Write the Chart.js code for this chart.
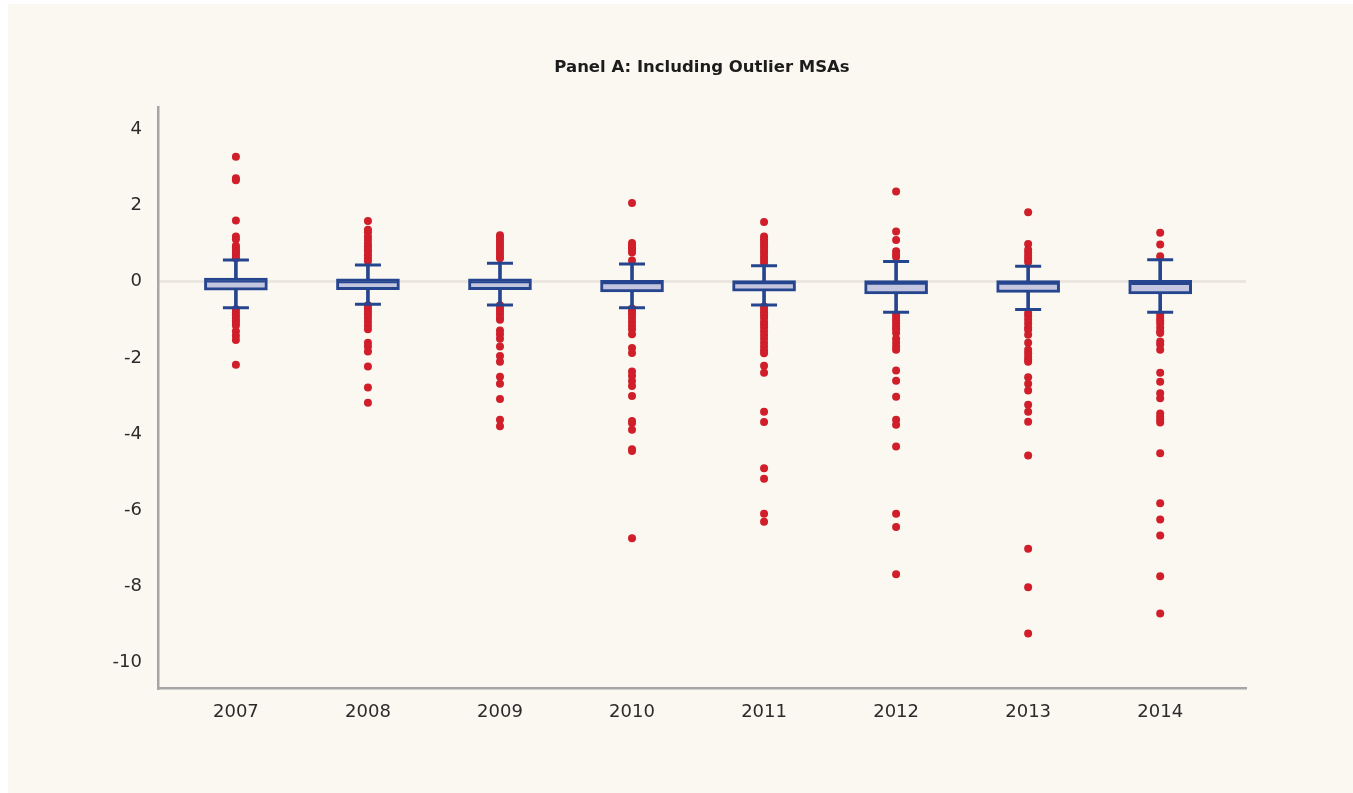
<!DOCTYPE html>
<html>
<head>
<meta charset="utf-8">
<title>Panel A: Including Outlier MSAs</title>
<script src="https://cdn.jsdelivr.net/npm/chart.js@4/dist/chart.umd.min.js"></script>
<style>
  html, body { margin: 0; padding: 0; background: #ffffff; }
  #wrap { position: relative; width: 1353px; height: 793px; overflow: hidden; }
  #panel { position: absolute; left: 8px; top: 4px; right: 0; bottom: 0; background: #fbf8f1; }
  #chart { position: absolute; left: 0; top: 0; }
</style>
</head>
<body>
<div id="wrap">
  <div id="panel"></div>
  <canvas id="chart" width="1353" height="793"></canvas>
</div>
<script>
// Years on the horizontal axis
const years = [2007, 2008, 2009, 2010, 2011, 2012, 2013, 2014];
const yTicks = [-10, -8, -6, -4, -2, 0, 2, 4];

// Box-plot summaries per year
const q1 = [-0.22, -0.21, -0.21, -0.27, -0.25, -0.32, -0.28, -0.32];
const q3 = [0.10, 0.08, 0.08, 0.04, 0.03, 0.03, 0.03, 0.04];
const medians = [0.01, -0.01, -0.01, -0.04, -0.04, -0.05, -0.05, -0.06];
const whiskerHigh = [0.57, 0.44, 0.49, 0.47, 0.42, 0.53, 0.41, 0.58];
const whiskerLow = [-0.68, -0.59, -0.61, -0.68, -0.61, -0.80, -0.73, -0.80];

// Outlier MSAs per year
const outliers2007 = [3.29, 2.72, 2.67, 1.61, 1.19, 1.12, 0.95, 0.9, 0.84, 0.79, 0.74, 0.68, 0.62,
  -0.72, -0.8, -0.88, -0.95, -1.02, -1.08, -1.15, -1.3, -1.42, -1.53, -2.18];
const outliers2008 = [1.6, 1.37, 1.3, 1.19, 1.1, 1.0, 0.93, 0.85, 0.78, 0.7, 0.62, 0.54,
  -0.62, -0.7, -0.78, -0.86, -0.95, -1.05, -1.15, -1.25, -1.6, -1.7, -1.83, -2.23, -2.78, -3.18];
const outliers2009 = [1.22, 1.15, 1.08, 1.0, 0.92, 0.84, 0.76, 0.68, 0.62,
  -0.62, -0.7, -0.78, -0.86, -0.95, -1.0, -1.28, -1.38, -1.5, -1.7, -1.95, -2.1, -2.5, -2.68, -3.08, -3.63, -3.8];
const outliers2010 = [2.07, 1.02, 0.96, 0.9, 0.84, 0.77, 0.56,
  -0.7, -0.78, -0.86, -0.95, -1.05, -1.15, -1.25, -1.38, -1.74, -1.87, -2.36, -2.47, -2.61, -2.74, -3.0,
  -3.66, -3.71, -3.89, -4.4, -4.45, -6.74];
const outliers2011 = [1.57, 1.19, 1.12, 1.05, 0.98, 0.9, 0.82, 0.74, 0.66, 0.58, 0.5,
  -0.65, -0.72, -0.8, -0.88, -0.95, -1.05, -1.12, -1.2, -1.3, -1.4, -1.5, -1.6, -1.7, -1.8, -1.88,
  -2.21, -2.39, -3.42, -3.69, -4.9, -5.18, -6.1, -6.31];
const outliers2012 = [2.37, 1.32, 1.1, 0.8, 0.72, 0.65,
  -0.87, -0.95, -1.02, -1.1, -1.18, -1.25, -1.35, -1.5, -1.6, -1.7, -1.79,
  -2.33, -2.6, -3.02, -3.63, -3.76, -4.33, -6.1, -6.45, -7.69];
const outliers2013 = [1.83, 0.99, 0.84, 0.76, 0.68, 0.6, 0.52,
  -0.82, -0.9, -1.0, -1.1, -1.2, -1.26, -1.39, -1.6, -1.79, -1.88, -1.97, -2.05, -2.1,
  -2.51, -2.68, -2.86, -3.23, -3.42, -3.68, -4.57, -7.02, -8.03, -9.25];
const outliers2014 = [1.29, 0.98, 0.67,
  -0.87, -0.95, -1.02, -1.1, -1.2, -1.3, -1.35, -1.57, -1.65, -1.79,
  -2.39, -2.63, -2.93, -3.06, -3.46, -3.55, -3.63, -3.7, -4.51, -5.82, -6.25, -6.67, -7.74, -8.72];
const outlierLists = [outliers2007, outliers2008, outliers2009, outliers2010,
  outliers2011, outliers2012, outliers2013, outliers2014];

const NAVY = '#26458f';
const BOX_FILL = '#c4c6df';
const RED = '#d01f2a';
const AXIS = '#a6a6a6';

const outlierPoints = [];
outlierLists.forEach((list, i) => list.forEach(v => outlierPoints.push({ x: years[i], y: v })));

new Chart(document.getElementById('chart'), {
  type: 'bar',
  data: {
    datasets: [
      {
        // outlying MSAs
        type: 'scatter',
        data: outlierPoints,
        order: 6,
        pointRadius: 4,
        pointBorderWidth: 0,
        pointBackgroundColor: RED,
        pointBorderColor: RED
      },
      {
        // whisker stems, low whisker to high whisker
        type: 'bar',
        data: years.map((y, i) => ({ x: y, y: [whiskerLow[i], whiskerHigh[i]] })),
        order: 5,
        grouped: false,
        barThickness: 3,
        backgroundColor: NAVY,
        borderWidth: 0
      },
      {
        // interquartile boxes
        type: 'bar',
        data: years.map((y, i) => ({ x: y, y: [q1[i], q3[i]] })),
        order: 4,
        grouped: false,
        barThickness: 63,
        backgroundColor: BOX_FILL,
        borderColor: NAVY,
        borderWidth: 3,
        borderSkipped: false
      },
      {
        // medians
        type: 'scatter',
        data: years.map((y, i) => ({ x: y, y: medians[i] })),
        order: 3,
        pointStyle: 'line',
        pointRadius: 29,
        pointBorderWidth: 2,
        pointBorderColor: NAVY
      },
      {
        // whisker caps
        type: 'scatter',
        data: years.map((y, i) => ({ x: y, y: whiskerHigh[i] }))
          .concat(years.map((y, i) => ({ x: y, y: whiskerLow[i] }))),
        order: 2,
        pointStyle: 'line',
        pointRadius: 13,
        pointBorderWidth: 3,
        pointBorderColor: NAVY
      }
    ]
  },
  options: {
    responsive: false,
    animation: false,
    events: [],
    layout: { padding: { left: 0, right: 107, top: 0, bottom: 0 } },
    plugins: {
      legend: { display: false },
      tooltip: { enabled: false },
      title: {
        display: true,
        text: 'Panel A: Including Outlier MSAs',
        fullSize: false,
        color: '#1c1c1c',
        font: { family: 'DejaVu Sans', size: 16.5, weight: 'bold', lineHeight: 1.2 },
        padding: { top: 58, bottom: 29 }
      }
    },
    scales: {
      x: {
        type: 'linear',
        offset: false,
        min: 2006.41,
        max: 2014.65,
        afterBuildTicks: s => { s.ticks = years.map(v => ({ value: v })); },
        afterFit: s => { s.height = 105; },
        grid: { display: false, drawTicks: false, offset: false },
        border: { color: AXIS, width: 2.5 },
        ticks: {
          padding: 14,
          color: '#2b2b2b',
          font: { family: 'DejaVu Sans', size: 18 },
          callback: v => String(v)
        }
      },
      y: {
        type: 'linear',
        min: -10.68,
        max: 4.6,
        afterBuildTicks: s => { s.ticks = yTicks.map(v => ({ value: v })); },
        afterFit: s => { s.width = 158; },
        grid: {
          drawTicks: false,
          color: c => (c.tick && c.tick.value === 0 ? '#ebe6e0' : 'rgba(0,0,0,0)'),
          lineWidth: 3
        },
        border: { color: AXIS, width: 2.5 },
        ticks: {
          padding: 16,
          color: '#2b2b2b',
          font: { family: 'DejaVu Sans', size: 18 },
          callback: v => String(v)
        }
      }
    }
  }
});
</script>
</body>
</html>
